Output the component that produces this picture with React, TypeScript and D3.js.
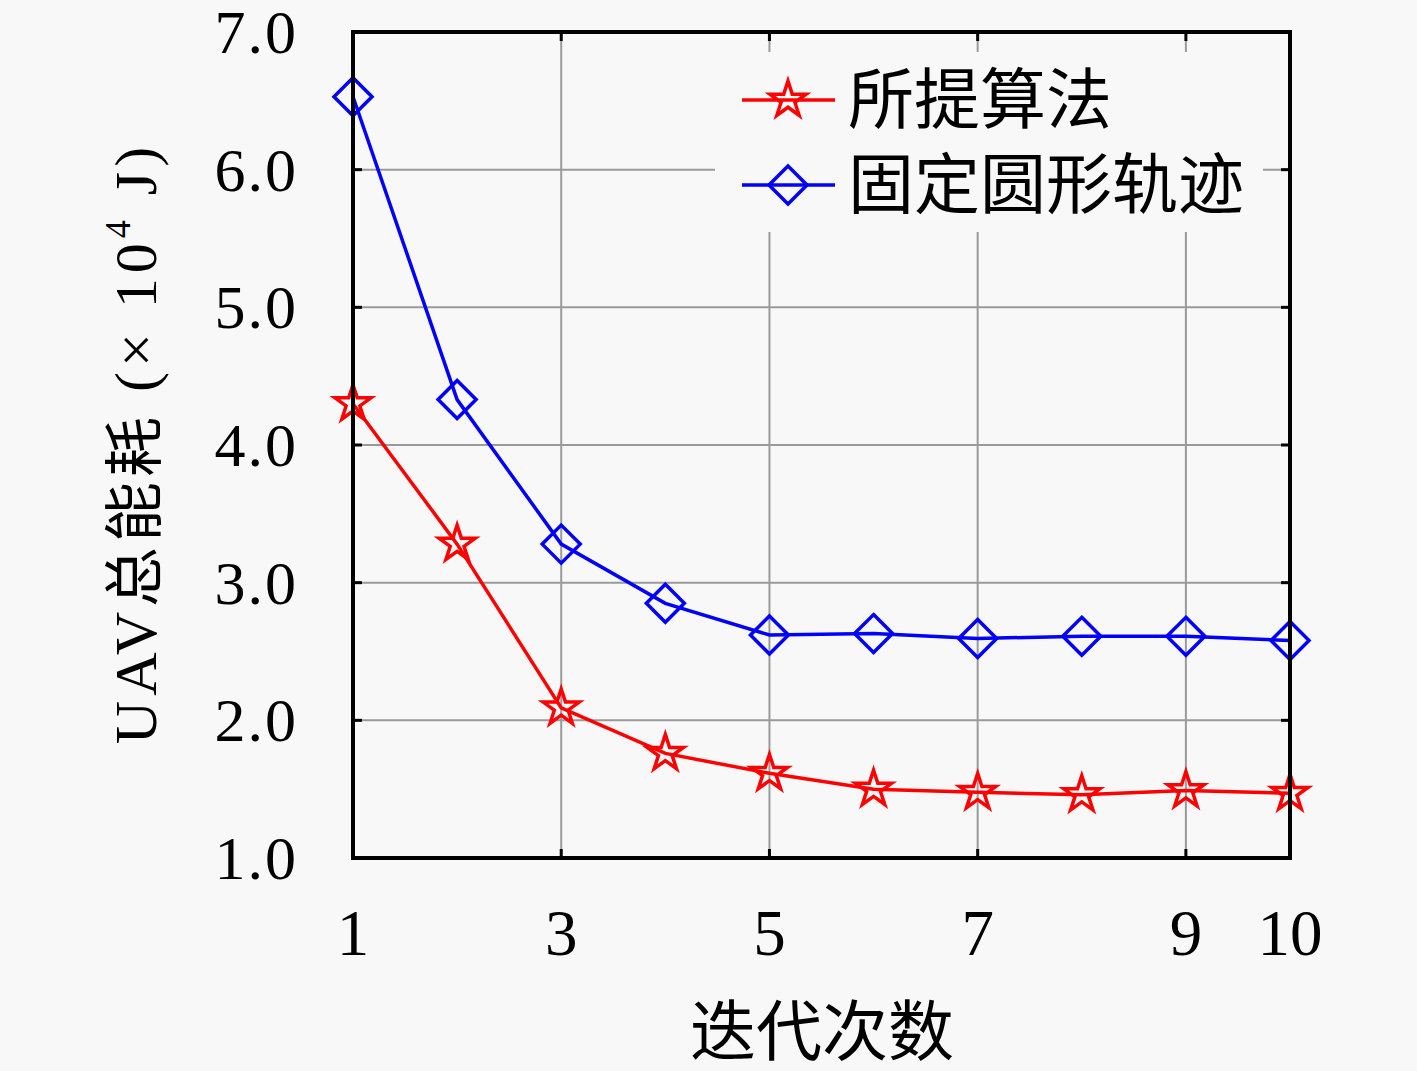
import { useRef, useEffect } from 'react';
import * as d3 from 'd3';

const iterations = [1, 2, 3, 4, 5, 6, 7, 8, 9, 10];
const proposed = [4.3, 3.28, 2.09, 1.76, 1.615, 1.5, 1.477, 1.46, 1.49, 1.47];
const circular = [6.53, 4.33, 3.28, 2.85, 2.62, 2.63, 2.595, 2.61, 2.61, 2.58];
const xTicks = [1, 3, 5, 7, 9, 10];
const yTicks = [1, 2, 3, 4, 5, 6, 7];
const legendLabels = ['所提算法', '固定圆形轨迹'];

const W = 1417;
const H = 1071;
const BG = '#f8f8f8';
const SERIF = "'Liberation Serif', 'DejaVu Serif', 'Noto Sans CJK SC', serif";

function starPath(R: number): string {
  const r = R * 0.382;
  const pts: string[] = [];
  for (let i = 0; i < 10; i++) {
    const rad = i % 2 === 0 ? R : r;
    const a = -Math.PI / 2 + (i * Math.PI) / 5;
    pts.push(`${(rad * Math.cos(a)).toFixed(2)},${(rad * Math.sin(a)).toFixed(2)}`);
  }
  return `M${pts.join('L')}Z`;
}

function diamondPath(R: number): string {
  return `M0,${-R}L${R},0L0,${R}L${-R},0Z`;
}

export default function App() {
  const svgRef = useRef<SVGSVGElement>(null);

  useEffect(() => {
    document.body.style.margin = '0';
    document.body.style.background = BG;
    if (!svgRef.current) return;
    const svg = d3.select(svgRef.current);
    svg.selectAll('*').remove();

    const margin = { top: 32, right: 127, bottom: 213, left: 353 };
    const innerW = W - margin.left - margin.right;
    const innerH = H - margin.top - margin.bottom;

    svg.append('rect').attr('width', W).attr('height', H).attr('fill', BG);
    const g = svg.append('g').attr('transform', `translate(${margin.left},${margin.top})`);

    const x = d3.scaleLinear().domain([1, 10]).range([0, innerW]);
    const y = d3.scaleLinear().domain([1, 7]).range([innerH, 0]);

    // grid
    g.append('g')
      .selectAll('line')
      .data(xTicks.filter((t) => t !== 1 && t !== 10))
      .enter()
      .append('line')
      .attr('x1', (d) => x(d)).attr('x2', (d) => x(d))
      .attr('y1', 0).attr('y2', innerH)
      .attr('stroke', '#9a9a9a').attr('stroke-width', 2);
    g.append('g')
      .selectAll('line')
      .data(yTicks.filter((t) => t !== 1 && t !== 7))
      .enter()
      .append('line')
      .attr('x1', 0).attr('x2', innerW)
      .attr('y1', (d) => y(d)).attr('y2', (d) => y(d))
      .attr('stroke', '#9a9a9a').attr('stroke-width', 2);

    // legend background covers grid
    g.append('rect')
      .attr('x', 715 - margin.left).attr('y', 52 - margin.top)
      .attr('width', 548).attr('height', 180)
      .attr('fill', BG);

    // series
    const line = d3.line<number>()
      .x((_, i) => x(iterations[i]))
      .y((d) => y(d));

    const series = [
      { data: circular, color: '#0000ff', marker: diamondPath(19) },
      { data: proposed, color: '#ff0000', marker: starPath(19) },
    ];

    series.forEach((s) => {
      g.append('path')
        .datum(s.data)
        .attr('d', line)
        .attr('fill', 'none')
        .attr('stroke', s.color)
        .attr('stroke-width', 3.5);
      g.selectAll(null)
        .data(s.data)
        .enter()
        .append('path')
        .attr('d', s.marker)
        .attr('transform', (d, i) => `translate(${x(iterations[i])},${y(d)})`)
        .attr('fill', 'none')
        .attr('stroke', s.color)
        .attr('stroke-width', 3.5);
    });

    // frame
    g.append('rect')
      .attr('width', innerW).attr('height', innerH)
      .attr('fill', 'none').attr('stroke', '#000').attr('stroke-width', 4);

    // ticks (inward, all sides)
    const tl = 9;
    xTicks.forEach((t) => {
      g.append('line').attr('x1', x(t)).attr('x2', x(t)).attr('y1', innerH).attr('y2', innerH - tl)
        .attr('stroke', '#000').attr('stroke-width', 3);
      g.append('line').attr('x1', x(t)).attr('x2', x(t)).attr('y1', 0).attr('y2', tl)
        .attr('stroke', '#000').attr('stroke-width', 3);
    });
    yTicks.forEach((t) => {
      g.append('line').attr('x1', 0).attr('x2', tl).attr('y1', y(t)).attr('y2', y(t))
        .attr('stroke', '#000').attr('stroke-width', 3);
      g.append('line').attr('x1', innerW).attr('x2', innerW - tl).attr('y1', y(t)).attr('y2', y(t))
        .attr('stroke', '#000').attr('stroke-width', 3);
    });

    // tick labels
    g.append('g')
      .selectAll('text')
      .data(xTicks)
      .enter()
      .append('text')
      .attr('x', (d) => x(d))
      .attr('y', innerH + 97)
      .attr('text-anchor', 'middle')
      .attr('font-family', SERIF)
      .attr('font-size', 65)
      .attr('fill', '#000')
      .text((d) => String(d));

    g.append('g')
      .selectAll('text')
      .data(yTicks)
      .enter()
      .append('text')
      .attr('x', -55)
      .attr('y', (d) => y(d) + 21)
      .attr('text-anchor', 'end')
      .attr('font-family', SERIF)
      .attr('font-size', 62)
      .attr('letter-spacing', 2)
      .attr('fill', '#000')
      .text((d) => d.toFixed(1));

    // axis titles
    svg.append('text')
      .attr('x', 822).attr('y', 1055)
      .attr('text-anchor', 'middle')
      .attr('font-family', SERIF)
      .attr('font-size', 66)
      .attr('fill', '#000')
      .text('迭代次数');

    const yl = svg.append('text')
      .attr('transform', `translate(156,${margin.top + innerH / 2 - 2}) rotate(-90)`)
      .attr('text-anchor', 'middle')
      .attr('font-family', SERIF)
      .attr('font-size', 60)
      .attr('letter-spacing', 5)
      .attr('fill', '#000');
    yl.append('tspan').text('UAV总能耗 (× 10');
    yl.append('tspan').attr('font-size', 36).attr('dy', -26).text('4');
    yl.append('tspan').attr('dy', 26).text(' J)');

    // legend
    legendLabels.forEach((lab, i) => {
      const s = i === 0 ? series[1] : series[0];
      const ly = 100 + i * 85;
      svg.append('line')
        .attr('x1', 742).attr('x2', 835).attr('y1', ly).attr('y2', ly)
        .attr('stroke', s.color).attr('stroke-width', 3.5);
      svg.append('path')
        .attr('d', s.marker)
        .attr('transform', `translate(788,${ly})`)
        .attr('fill', 'none').attr('stroke', s.color).attr('stroke-width', 3.5);
      svg.append('text')
        .attr('x', 848).attr('y', ly + 23)
        .attr('font-family', SERIF)
        .attr('font-size', 66)
        .attr('fill', '#000')
        .text(lab);
    });
  }, []);

  return <svg ref={svgRef} width={W} height={H} style={{ display: 'block' }} />;
}
